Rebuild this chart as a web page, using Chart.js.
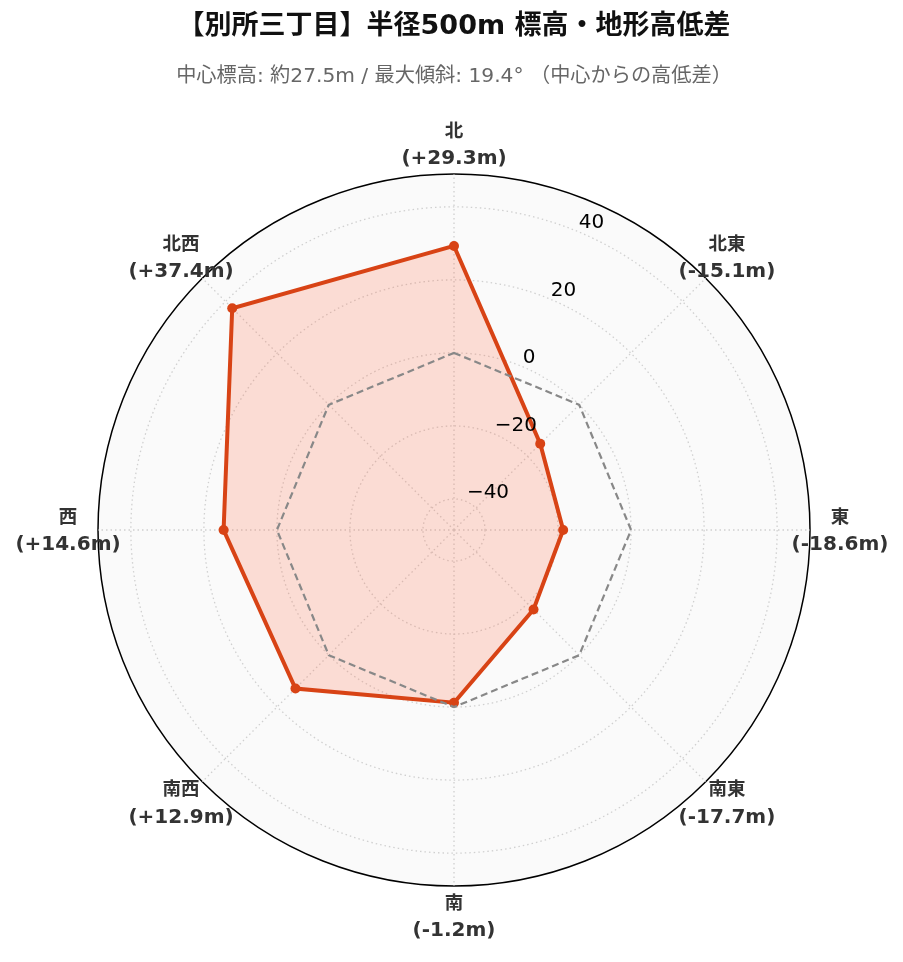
<!DOCTYPE html>
<html>
<head>
<meta charset="utf-8">
<script src="https://cdn.jsdelivr.net/npm/chart.js@4/dist/chart.umd.min.js"></script>
<style>
  html, body { margin: 0; padding: 0; background: #fff; }
  #wrap { width: 903px; height: 962px; }
</style>
</head>
<body>
<div id="wrap"><canvas id="myChart" width="903" height="962"></canvas></div>
<script>
// 方位と高低差 (中心からの差, m)
const directions = ['北', '北東', '東', '南東', '南', '南西', '西', '北西'];
const diffs = [29.3, -15.1, -18.6, -17.7, -1.2, 12.9, 14.6, 37.4];
const baseline = [0, 0, 0, 0, 0, 0, 0, 0]; // 中心標高ライン
const tickValues = [-40, -20, 0, 20, 40];
const rMin = -48.5;
const rMax = 49;

const fmt = v => '(' + (v > 0 ? '+' : '') + v.toFixed(1) + 'm)';

// 目盛りラベル (22.5°方向) と方位ラベルを描画
const labelPlugin = {
  id: 'labelPlugin',
  afterDraw(chart) {
    const scale = chart.scales.r;
    const ctx = chart.ctx;
    ctx.save();
    // 目盛り
    ctx.font = '20px "DejaVu Sans"';
    ctx.fillStyle = '#000';
    ctx.textAlign = 'left';
    ctx.textBaseline = 'alphabetic';
    tickValues.forEach(v => {
      const p = scale.getPointPosition(0.5, scale.getDistanceFromCenterForValue(v));
      ctx.fillText(String(v).replace('-', '\u2212'), p.x + 1, p.y - 3);
    });
    // 方位ラベル
    ctx.fillStyle = '#333';
    ctx.textAlign = 'center';
    ctx.textBaseline = 'middle';
    directions.forEach((d, i) => {
      const p = scale.getPointPosition(i, scale.drawingArea + 30);
      ctx.font = 'bold 18.5px "Noto Sans CJK JP"';
      ctx.fillText(d, p.x, p.y - 14.5);
      ctx.font = 'bold 20px "DejaVu Sans"';
      ctx.fillText(fmt(diffs[i]), p.x, p.y + 14.5);
    });
    ctx.restore();
  }
};

const ctx = document.getElementById('myChart').getContext('2d');
new Chart(ctx, {
  type: 'radar',
  data: {
    labels: directions,
    datasets: [{
      label: '中心標高',
      data: baseline,
      borderColor: '#888888',
      borderWidth: 2.2,
      borderDash: [7, 4],
      pointRadius: 0,
      fill: false
    }, {
      label: '高低差',
      data: diffs,
      borderColor: '#d84315',
      backgroundColor: 'rgba(255, 100, 60, 0.2)',
      borderWidth: 4,
      pointRadius: 5,
      pointBackgroundColor: '#d84315',
      pointBorderWidth: 0,
      fill: 'start'
    }]
  },
  options: {
    responsive: false,
    animation: false,
    layout: { padding: { left: 98, right: 93, top: 0, bottom: 75 } },
    plugins: {
      legend: { display: false },
      tooltip: { enabled: false },
      title: {
        display: true,
        text: '【別所三丁目】半径500m 標高・地形高低差',
        color: '#111',
        font: { family: '"DejaVu Sans", "Noto Sans CJK JP"', size: 27, weight: 'bold', lineHeight: 1.2 },
        padding: { top: 11, bottom: 0 }
      },
      subtitle: {
        display: true,
        text: '中心標高: 約27.5m / 最大傾斜: 19.4° （中心からの高低差）',
        color: '#666',
        font: { family: '"DejaVu Sans", "Noto Sans CJK JP"', size: 20.2, lineHeight: 1.2 },
        padding: { top: 21, bottom: 86 }
      }
    },
    scales: {
      r: {
        min: rMin,
        max: rMax,
        backgroundColor: '#fafafa',
        ticks: { display: false, stepSize: 20 },
        pointLabels: { display: false },
        grid: {
          circular: true,
          color: c => c.tick && c.tick.value === rMax ? '#000' : '#d0d0d0',
          lineWidth: c => c.tick && c.tick.value === rMax ? 1.5 : 1.3
        },
        border: {
          dash: c => c.tick && c.tick.value === rMax ? [] : [1.5, 3]
        },
        angleLines: {
          color: '#d0d0d0',
          lineWidth: 1.3,
          borderDash: [1.5, 3]
        }
      }
    }
  },
  plugins: [labelPlugin]
});
</script>
</body>
</html>
